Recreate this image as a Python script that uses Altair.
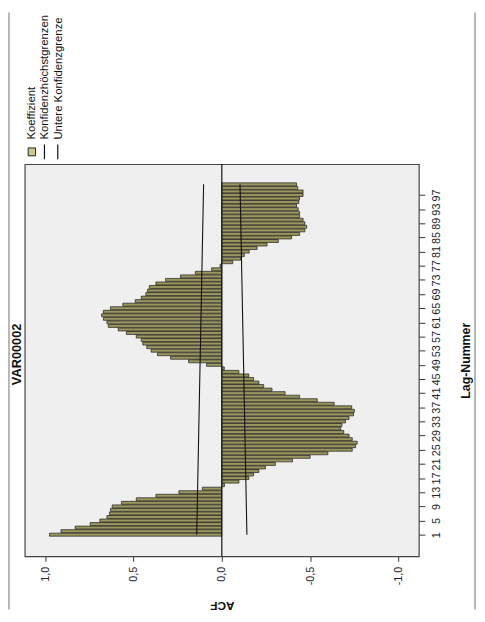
import altair as alt
import pandas as pd

# ---- data ----
lags = list(range(1, 101))
acf = [
    0.975, 0.91, 0.83, 0.745, 0.69, 0.65, 0.635, 0.63, 0.62, 0.568,
    0.484, 0.373, 0.243, 0.11, -0.015, -0.097, -0.153, -0.18, -0.21, -0.247,
    -0.303, -0.40, -0.50, -0.60, -0.738, -0.757, -0.766, -0.738, -0.72, -0.69,
    -0.673, -0.68, -0.70, -0.72, -0.745, -0.75, -0.735, -0.636, -0.54, -0.44,
    -0.358, -0.284, -0.237, -0.21, -0.18, -0.153, -0.097, -0.014, 0.086, 0.188,
    0.29, 0.364, 0.40, 0.425, 0.447, 0.456, 0.484, 0.54, 0.586, 0.642,
    0.65, 0.67, 0.68, 0.67, 0.63, 0.56, 0.49, 0.456, 0.43, 0.42,
    0.41, 0.373, 0.318, 0.234, 0.15, 0.058, 0.01, -0.062, -0.108, -0.127,
    -0.155, -0.20, -0.256, -0.32, -0.395, -0.44, -0.47, -0.48, -0.47, -0.46,
    -0.44, -0.44, -0.432, -0.423, -0.436, -0.44, -0.46, -0.46, -0.43, -0.423,
]
conf_lags = [1, 100]
conf_upper = [0.142, 0.103]
conf_lower = [-0.142, -0.103]
acf_ticks = [-1.0, -0.5, 0.0, 0.5, 1.0]
lag_ticks = list(range(1, 98, 4))
legend_labels = ["Koeffizient", "Konfidenzhöchstgrenzen", "Untere Konfidenzgrenze"]
title_text = "VAR00002"

FONT = "Liberation Sans"
BAR_FILL = "#9a965c"

bars_df = pd.DataFrame({"lag": lags, "acf": acf})
conf_df = pd.DataFrame({
    "lag": conf_lags * 2,
    "value": conf_upper + conf_lower,
    "series": [legend_labels[1]] * len(conf_lags) + [legend_labels[2]] * len(conf_lags),
})
one = pd.DataFrame({"k": [0]})

x_scale = alt.Scale(domain=[-1.115, 1.115], reverse=True, nice=False, zero=False)
y_scale = alt.Scale(domain=[-5.12, 105.7], nice=False, zero=False)

x_axis = alt.Axis(
    values=acf_ticks, title="ACF", grid=False, domain=False,
    tickSize=5, tickColor="#333", labelAngle=270, labelAlign="right",
    labelBaseline="middle", labelPadding=5, labelFontSize=11, labelColor="#222",
    labelFont=FONT,
    labelExpr="replace(replace(format(datum.value, '.1f'), '.', ','), '\u2212', '-')",
    titleAngle=180, titleX=200, titleY=50, titleAlign="center",
    titleBaseline="middle", titleFontSize=12, titleFontWeight="bold", titleColor="#111",
    titleFont=FONT,
)
y_axis = alt.Axis(
    orient="right", values=lag_ticks, format="d", title="Lag-Nummer", grid=False,
    domain=False, tickSize=6, tickColor="#333", labelAngle=270, labelAlign="center",
    labelBaseline="top", labelPadding=6, labelFontSize=11, labelColor="#222",
    labelFont=FONT, labelOverlap=False, labelBound=False, labelFlush=False,
    titleAngle=270, titleX=47, titleY=199, titleAlign="center",
    titleBaseline="middle", titleFontSize=12.5, titleFontWeight="bold", titleColor="#111",
    titleFont=FONT,
)

bars = alt.Chart(bars_df).transform_calculate(
    lo="datum.lag - 0.42", hi="datum.lag + 0.42", zero="0"
).mark_bar(fill=BAR_FILL, stroke="#1a1a1a", strokeWidth=0.7).encode(
    x=alt.X("acf:Q", scale=x_scale, axis=x_axis),
    x2="zero:Q",
    y=alt.Y("lo:Q", scale=y_scale, axis=y_axis),
    y2="hi:Q",
)

zero_line = alt.Chart(one).transform_calculate(zero="0").mark_rule(
    color="#111", strokeWidth=1.2
).encode(x=alt.X("zero:Q", scale=x_scale, axis=x_axis))

conf_lines = alt.Chart(conf_df).mark_line(color="#111", strokeWidth=1.1).encode(
    x=alt.X("value:Q", scale=x_scale, axis=x_axis),
    y=alt.Y("lag:Q", scale=y_scale, axis=y_axis),
    detail="series:N",
)

# chart title (drawn as rotated text, as in the reference)
title_mark = alt.Chart(one).mark_text(
    text=title_text, angle=270, align="center", baseline="middle",
    fontSize=13, fontWeight="bold", font=FONT, color="#111"
).encode(x=alt.value(-8), y=alt.value(193))

# manual legend (top, rotated text as in the reference)
leg_square = alt.Chart(one).mark_rect(fill="#cbc88a", stroke="#222", strokeWidth=1).encode(
    x=alt.value(3.5), x2=alt.value(11), y=alt.value(-16.5), y2=alt.value(-8.5)
)
leg_line1 = alt.Chart(one).mark_rule(color="#111", strokeWidth=1.2).encode(
    x=alt.value(20), y=alt.value(-20), y2=alt.value(-5)
)
leg_line2 = alt.Chart(one).mark_rule(color="#111", strokeWidth=1.2).encode(
    x=alt.value(33.5), y=alt.value(-20), y2=alt.value(-5)
)
leg_texts = [
    alt.Chart(one).mark_text(
        text=lab, angle=270, align="left", baseline="middle",
        fontSize=11.5, font=FONT, color="#111"
    ).encode(x=alt.value(xp), y=alt.value(-25))
    for lab, xp in zip(legend_labels, [7.5, 21, 34.5])
]

# outer frame lines
frame_l = alt.Chart(one).mark_rule(color="#a0a0a0", strokeWidth=1.5).encode(
    x=alt.value(-16), y=alt.value(-154), y2=alt.value(452)
)
frame_r = alt.Chart(one).mark_rule(color="#a0a0a0", strokeWidth=1.5).encode(
    x=alt.value(457), y=alt.value(-154), y2=alt.value(452)
)

chart = alt.layer(
    bars, zero_line, conf_lines, title_mark, leg_square, leg_line1, leg_line2,
    *leg_texts, frame_l, frame_r
).properties(
    width=400, height=398,
    padding={"left": 17, "top": 154, "right": 59, "bottom": 54},
    autosize=alt.AutoSizeParams(type="none"),
).configure(
    font=FONT
).configure_view(
    fill="#efefef", stroke="#444", strokeWidth=1.2
)

chart.save("out.html", embed_options={"renderer": "svg", "actions": False})
